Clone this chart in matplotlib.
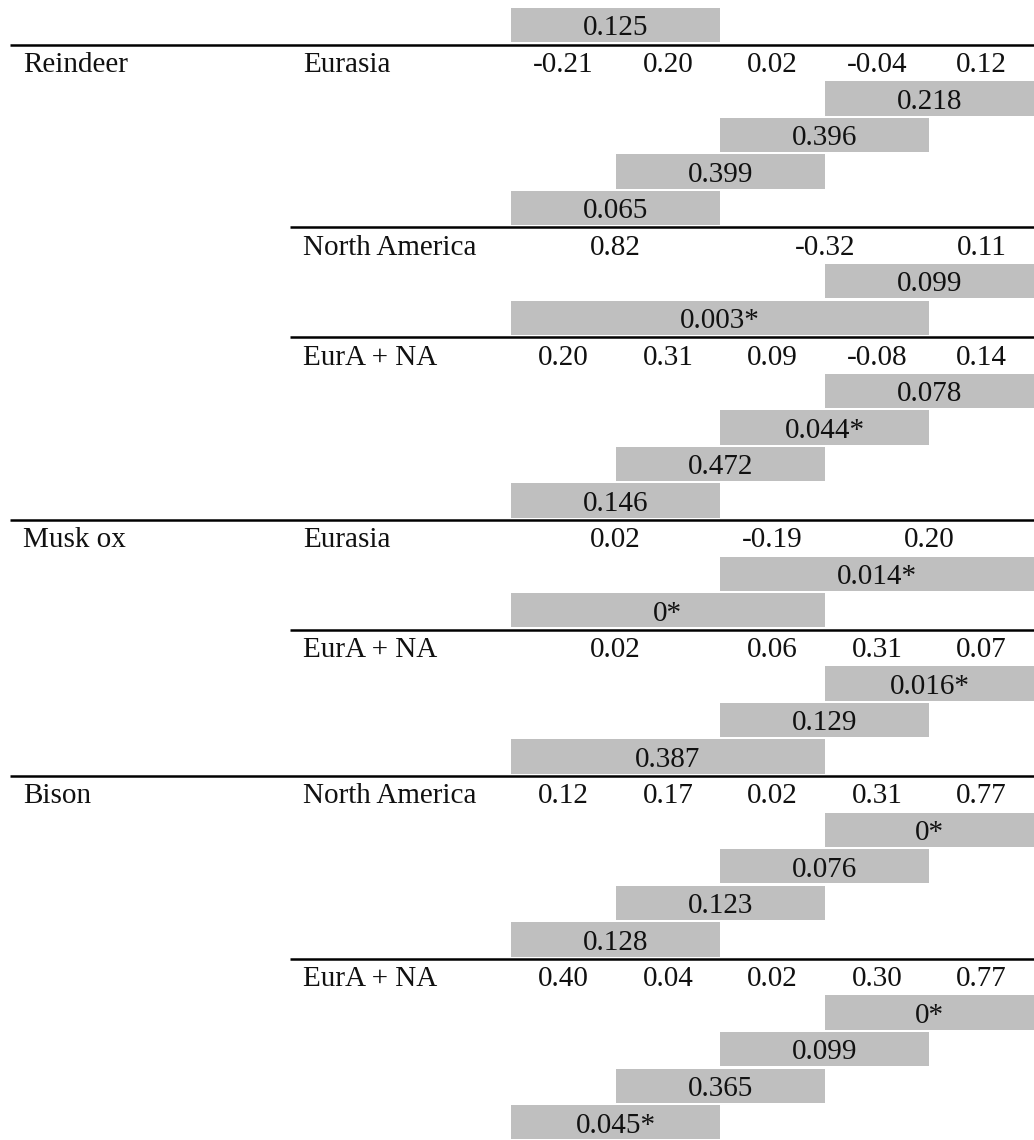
import matplotlib.pyplot as plt

# correlation coefficients per species / region block, with the columns each one spans
species = ["Reindeer", "Reindeer", "Reindeer", "Musk ox", "Musk ox", "Bison", "Bison"]
regions = ["Eurasia", "North America", "EurA + NA", "Eurasia", "EurA + NA",
           "North America", "EurA + NA"]
coefficients = [
    [-0.21, 0.20, 0.02, -0.04, 0.12],
    [0.82, -0.32, 0.11],
    [0.20, 0.31, 0.09, -0.08, 0.14],
    [0.02, -0.19, 0.20],
    [0.02, 0.06, 0.31, 0.07],
    [0.12, 0.17, 0.02, 0.31, 0.77],
    [0.40, 0.04, 0.02, 0.30, 0.77],
]
coef_widths = [
    [1, 1, 1, 1, 1],
    [2, 2, 1],
    [1, 1, 1, 1, 1],
    [2, 1, 2],
    [2, 1, 1, 1],
    [1, 1, 1, 1, 1],
    [1, 1, 1, 1, 1],
]

# p-values between neighbouring periods, each with the column range it covers
p_values = [
    [0.218, 0.396, 0.399, 0.065],
    [0.099, 0.003],
    [0.078, 0.044, 0.472, 0.146],
    [0.014, 0.0],
    [0.016, 0.129, 0.387],
    [0.0, 0.076, 0.123, 0.128],
    [0.0, 0.099, 0.365, 0.045],
]
p_ranges = [
    [(3, 5), (2, 4), (1, 3), (0, 2)],
    [(3, 5), (0, 4)],
    [(3, 5), (2, 4), (1, 3), (0, 2)],
    [(2, 5), (0, 3)],
    [(3, 5), (2, 4), (0, 3)],
    [(3, 5), (2, 4), (1, 3), (0, 2)],
    [(3, 5), (2, 4), (1, 3), (0, 2)],
]

# last p-value of the block carried over from the previous page
carry_p = 0.125
carry_range = (0, 2)

ALPHA = 0.05
SHADE = "#bfbfbf"
FONT = ["Liberation Serif", "DejaVu Serif"]
FS = 21

# layout in column / row units
COL_PX = 104.6
ROW_PX = 36.57
X0_PX, Y0_PX = 511, 8
W_PX, H_PX = 1034, 1140
SPECIES_X = (23 - X0_PX) / COL_PX
REGION_X = (303 - X0_PX) / COL_PX
FULL_LINE_X = (10 - X0_PX) / COL_PX
SUB_LINE_X = (290 - X0_PX) / COL_PX


def fmt_p(p):
    s = "0" if p == 0 else f"{p:.3f}"
    return s + ("*" if p < ALPHA else "")


def put_text(ax, x, row, s, ha="center"):
    ax.text(x, row + 0.5 + 0.25, s, ha=ha, va="baseline",
            fontsize=FS, family=FONT, color="#111111")


def shaded_box(ax, row, rng, p):
    ax.barh(row + 0.47, rng[1] - rng[0], left=rng[0], height=0.94,
            color=SHADE, linewidth=0)
    put_text(ax, (rng[0] + rng[1]) / 2, row, fmt_p(p))


fig = plt.figure(figsize=(W_PX / 100, H_PX / 100), dpi=100)
ax = fig.add_axes([0, 0, 1, 1])
ax.set_xlim(-X0_PX / COL_PX, (W_PX - X0_PX) / COL_PX)
ax.set_ylim((H_PX - Y0_PX) / ROW_PX, -Y0_PX / ROW_PX)
ax.axis("off")

row = 0
shaded_box(ax, row, carry_range, carry_p)
row += 1

prev_species = None
for sp, reg, coefs, widths, ps, rngs in zip(species, regions, coefficients,
                                             coef_widths, p_values, p_ranges):
    new_species = sp != prev_species
    ax.hlines(row, FULL_LINE_X if new_species else SUB_LINE_X, 5,
              color="black", linewidth=1.8)
    if new_species:
        put_text(ax, SPECIES_X, row, sp, ha="left")
    put_text(ax, REGION_X, row, reg, ha="left")

    col = 0
    for c, w in zip(coefs, widths):
        put_text(ax, col + w / 2, row, f"{c:.2f}")
        col += w
    row += 1

    for p, rng in zip(ps, rngs):
        shaded_box(ax, row, rng, p)
        row += 1
    prev_species = sp

fig.savefig("out.png", dpi=100)
